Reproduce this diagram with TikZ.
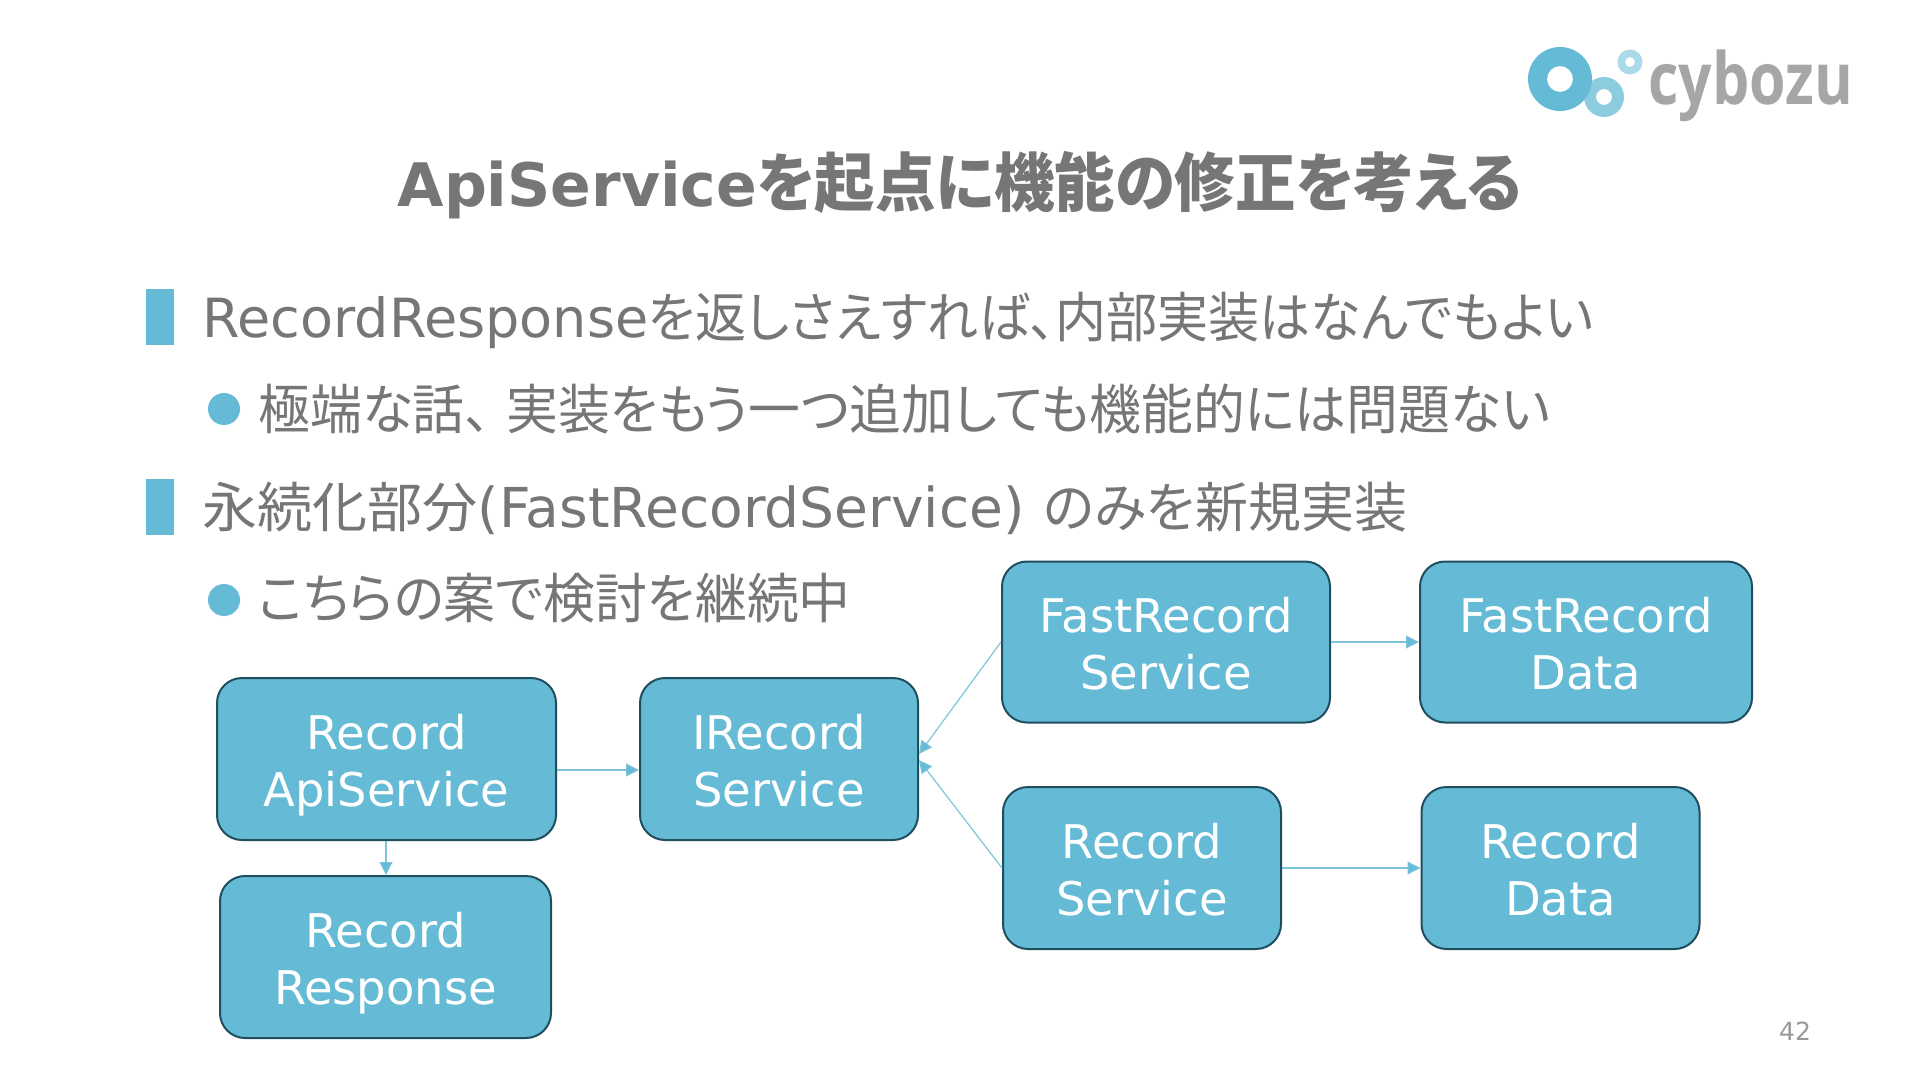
\documentclass[tikz,border=0pt]{standalone}
\usepackage{fontspec}
\setmainfont{DejaVu Sans}
\newfontfamily\jp[RawFeature=+palt,FakeStretch=0.96]{Noto Sans CJK JP}
\newfontfamily\jpnarrow[RawFeature=+palt,FakeStretch=0.945]{Noto Sans CJK JP}
\newfontfamily\jpwide[RawFeature=+palt,FakeStretch=1.02]{Noto Sans CJK JP}
\newfontfamily\jpmid[RawFeature=+palt,FakeStretch=0.98]{Noto Sans CJK JP}
\newfontfamily\logofont{Open Sans}
\usetikzlibrary{arrows.meta,calc}
\definecolor{accent}{HTML}{65BBD5}
\definecolor{edgedark}{HTML}{1F4E5F}
\definecolor{bodygray}{HTML}{767676}
\definecolor{linkblue}{HTML}{7CC4DC}
\newcommand{\toprule}{\rule{0pt}{24pt}}
\newcommand{\botrule}{\rule[-5.5pt]{0pt}{0pt}}
\tikzset{
  box/.style={draw=edgedark,line width=1pt,fill=accent,rounded corners=12.5pt,text=white,inner sep=0pt,
    align=center,font=\fontsize{23.2}{28.5}\selectfont},
  link/.style={draw=linkblue,line width=0.6pt,-{Triangle[length=6.5pt,width=6.5pt,fill=accent]}},
  lead/.style={anchor=base west,inner sep=0pt,text=bodygray,font=\fontsize{27}{30}\selectfont},
  sq/.style={fill=accent,minimum width=14pt,minimum height=28pt,inner sep=0pt},
  dot/.style={fill=accent,circle,minimum size=16pt,inner sep=0pt}
}
\begin{document}
\begin{tikzpicture}[x=0.5pt,y=-0.5pt]
\useasboundingbox (0,0) rectangle (1920,1080);
% logo
\fill[accent!75!white,even odd rule] (1604,97) circle[radius=20] (1604,97) circle[radius=8];
\fill[accent,even odd rule] (1560,79) circle[radius=32] (1560,79) circle[radius=13];
\fill[accent!55!white,even odd rule] (1630,62) circle[radius=12.5] (1630,62) circle[radius=5];
\node[anchor=base west,inner sep=0pt,text=black!35,font=\logofont\bfseries\fontsize{36}{36}\selectfont,xscale=0.82] (logo) at (1648,105) {cybozu};
% title
\node[anchor=base,inner sep=0pt,text=bodygray,font=\bfseries\fontsize{30}{32}\selectfont] (title) at (960,207) {ApiService{\jpnarrow\fontsize{32}{36}\selectfont を起点に機能の修正を考える}};
% bullets
\node[sq] (s1) at (160,317) {};
\node[sq] (s2) at (160,507) {};
\node[dot] (d1) at (224,409) {};
\node[dot] (d2) at (224,600) {};
\node[lead] (t1) at (202,338) {RecordResponse{\jpnarrow を返しさえすれば、内部実装はなんでもよい}};
\node[lead] (t2) at (258,429) {\jp 極端な話、\hspace{8pt}実装をもう一つ追加しても機能的には問題ない};
\node[lead] (t3) at (202,527) {{\jpwide 永続化部分}{\fontsize{27.5}{30}\selectfont (FastRecordService)} \hspace{1pt}{\jpmid のみを新規実装}};
\node[lead] (t4) at (258,618) {\jp こちらの案で検討を継続中};
% boxes
\node[box,minimum width=169.5pt,minimum height=81pt] (api) at (386.5,759) {\toprule Record\\ApiService\botrule};
\node[box,minimum width=139pt,minimum height=81pt] (irec) at (779,759) {\toprule IRecord\\Service\botrule};
\node[box,minimum width=164pt,minimum height=80.5pt] (fast) at (1166,642) {\toprule FastRecord\\Service\botrule};
\node[box,minimum width=166pt,minimum height=80.5pt] (fastd) at (1586,642) {\toprule FastRecord\\Data\botrule};
\node[box,minimum width=139pt,minimum height=81pt] (rec) at (1142,868) {\toprule Record\\Service\botrule};
\node[box,minimum width=139pt,minimum height=81pt] (recd) at (1560.5,868) {\toprule Record\\Data\botrule};
\node[box,minimum width=165.5pt,minimum height=81pt] (resp) at (385.5,957) {\toprule Record\\Response\botrule};
% connectors
\draw[link] (api.east|-0,770) -- (irec.west|-0,770);
\draw[link] (api.south-|386,0) -- (resp.north-|386,0);
\draw[link] (fast.west) -- (irec.east|-0,754);
\draw[link] (rec.west) -- (irec.east|-0,760);
\draw[link] (fast.east) -- (fastd.west);
\draw[link] (rec.east) -- (recd.west);
% page number
\node[inner sep=0pt,text=black!40,font=\fontsize{12.5}{14}\selectfont] (page) at (1795,1031) {42};
\end{tikzpicture}
\end{document}
